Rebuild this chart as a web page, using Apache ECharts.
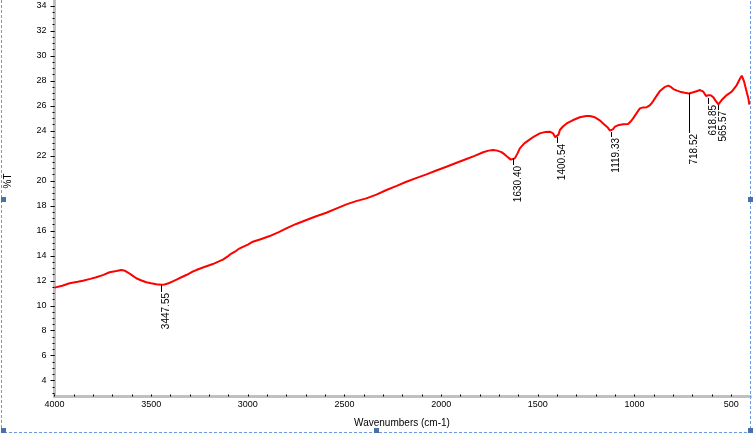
<!DOCTYPE html>
<html>
<head>
<meta charset="utf-8">
<script src="https://cdn.jsdelivr.net/npm/echarts@6/dist/echarts.min.js"></script>
<style>
html,body{margin:0;padding:0;background:#fff;}
#chart{width:753px;height:435px;}
</style>
</head>
<body>
<div id="chart"></div>
<script>
// ---- Data ----
const wavenumbers = [4000,3960,3922,3880,3853,3815,3784,3750,3715,3680,3655,3635,3620,3600,3577,3550,3525,3500,3474,3447,3431,3410,3388,3355,3318,3290,3267,3225,3181,3150,3129,3100,3085,3060,3042,3000,2974,2930,2887,2840,2801,2750,2697,2650,2594,2540,2490,2440,2387,2335,2283,2230,2180,2130,2076,2025,1973,1920,1869,1830,1783,1755,1731,1710,1688,1670,1654,1640,1630,1619,1605,1593,1570,1550,1520,1490,1460,1438,1421,1410,1400,1393,1386,1370,1351,1320,1283,1250,1231,1210,1196,1180,1162,1140,1127,1119,1110,1101,1080,1058,1033,1020,1007,990,972,955,937,925,911,890,868,845,825,810,799,780,765,740,718,696,675,661,644,630,619,606,593,580,566,549,523,497,471,454,445,438,433,420,411,406];
const transmittance = [11.45,11.6,11.8,11.92,12.0,12.15,12.28,12.45,12.68,12.78,12.86,12.8,12.66,12.45,12.2,12.02,11.88,11.8,11.72,11.68,11.7,11.8,11.95,12.2,12.46,12.7,12.86,13.1,13.34,13.55,13.7,14.0,14.18,14.4,14.6,14.9,15.13,15.35,15.58,15.9,16.2,16.55,16.87,17.15,17.45,17.8,18.12,18.38,18.6,18.9,19.27,19.6,19.93,20.22,20.52,20.83,21.13,21.45,21.75,21.98,22.29,22.42,22.47,22.42,22.3,22.1,21.88,21.7,21.65,21.8,22.2,22.6,23.0,23.22,23.55,23.8,23.92,23.94,23.8,23.5,23.35,23.7,24.07,24.35,24.6,24.85,25.09,25.2,25.2,25.12,25.0,24.85,24.6,24.3,24.02,23.94,24.15,24.34,24.48,24.53,24.55,24.75,25.0,25.4,25.8,25.88,25.9,26.0,26.21,26.7,27.2,27.5,27.62,27.5,27.35,27.22,27.14,27.05,27.0,27.09,27.2,27.27,27.14,26.8,26.85,26.85,26.7,26.4,26.12,26.47,26.87,27.14,27.67,28.2,28.42,28.3,27.94,27.14,26.6,26.1];

const peakWavenumbers = [3447.55, 1630.40, 1400.54, 1119.33, 718.52, 618.85, 565.57];
const peakTransmittance = [11.66, 21.83, 23.51, 23.94, 27.01, 26.63, 26.07];

const xTickLabels = [500,1000,1500,2000,2500,3000,3500,4000];
const yTickLabels = [4,6,8,10,12,14,16,18,20,22,24,26,28,30,32,34];

// ---- Styling / layout (not data) ----
const leaderLengths = [7, 7, 6, 5, 40, 6, 5];
const X_MIN = 400, X_MAX = 4000;
const Y_MIN = 2.735, Y_MAX = 34.48;

const xMinorTicks = [];
for (let v = 500; v <= 4000; v += 100) xMinorTicks.push(v);
const yMinorTicks = [];
for (let v = 3; v <= 34.4; v += 0.5) yMinorTicks.push(v);

const lineData = wavenumbers.map((w, i) => [w, transmittance[i]]);
const peakData = peakWavenumbers.map((w, i) => [w, peakTransmittance[i]]);

const chart = echarts.init(document.getElementById('chart'), null, {renderer: 'canvas'});
const FONT = 'Arial, "Liberation Sans", sans-serif';

chart.setOption({
  animation: false,
  backgroundColor: '#fff',
  grid: {left: 54.5, right: 2.5, top: 0, bottom: 38.5, containLabel: false},
  xAxis: [{
    type: 'value', inverse: true, min: X_MIN, max: X_MAX,
    axisLine: {show: true, lineStyle: {color: '#c0c0c0', width: 3}},
    axisTick: {show: true, inside: true, length: 2, customValues: xMinorTicks, lineStyle: {color: '#000', width: 1}},
    axisLabel: {show: true, customValues: xTickLabels, margin: 4, fontSize: 9, fontFamily: FONT, color: '#000',
                formatter: function (v) { return String(v); }},
    splitLine: {show: false}
  }],
  yAxis: [{
    type: 'value', min: Y_MIN, max: Y_MAX,
    axisLine: {show: true, lineStyle: {color: '#c0c0c0', width: 3}},
    axisTick: {show: true, inside: false, length: 4, customValues: yTickLabels, lineStyle: {color: '#000', width: 1}},
    axisLabel: {show: true, customValues: yTickLabels, margin: 8, fontSize: 9, fontFamily: FONT, color: '#000',
                formatter: function (v) { return String(v); }},
    splitLine: {show: false}
  }, {
    type: 'value', min: Y_MIN, max: Y_MAX, position: 'left', offset: 0,
    axisLine: {show: false},
    axisTick: {show: true, inside: false, length: 2, customValues: yMinorTicks, lineStyle: {color: '#000', width: 1}},
    axisLabel: {show: false},
    splitLine: {show: false}
  }],
  series: [{
    type: 'line',
    data: lineData,
    showSymbol: false,
    symbol: 'none',
    smooth: false,
    lineStyle: {color: '#ff0000', width: 2},
    z: 3
  }, {
    type: 'custom',
    data: peakData,
    clip: false,
    z: 4,
    renderItem: function (params, api) {
      const p = api.coord([api.value(0), api.value(1)]);
      const len = leaderLengths[params.dataIndex];
      const x = Math.round(p[0]) + 0.5;
      const y = Math.round(p[1]);
      return {
        type: 'group',
        children: [{
          type: 'line',
          shape: {x1: x, y1: y, x2: x, y2: y + len},
          style: {stroke: '#000', lineWidth: 1}
        }, {
          type: 'text',
          x: x,
          y: y + len + 1,
          rotation: Math.PI / 2,
          style: {
            text: peakWavenumbers[params.dataIndex].toFixed(2),
            align: 'right',
            verticalAlign: 'top',
            font: '10px ' + FONT,
            fill: '#000'
          }
        }]
      };
    }
  }],
  graphic: [
    {type: 'text', x: 8, y: 181, rotation: Math.PI / 2,
     style: {text: '%T', align: 'center', verticalAlign: 'middle', font: '10px ' + FONT, fill: '#000'}},
    {type: 'text', x: 402, y: 423,
     style: {text: 'Wavenumbers (cm-1)', align: 'center', verticalAlign: 'middle', font: '10px ' + FONT, fill: '#000'}},
    // selection frame (dashed) and handles
    {type: 'polyline', shape: {points: [[1.5, 0], [1.5, 432.5], [750.5, 432.5], [750.5, 0]]},
     style: {stroke: '#6a9be0', lineWidth: 1, lineDash: [3, 2], fill: null}, z: 10},
    {type: 'rect', shape: {x: 1, y: 197, width: 5, height: 5}, style: {fill: '#4a70a8'}, z: 11},
    {type: 'rect', shape: {x: 748, y: 197, width: 5, height: 5}, style: {fill: '#4a70a8'}, z: 11},
    {type: 'rect', shape: {x: 374, y: 428, width: 5, height: 5}, style: {fill: '#4a70a8'}, z: 11},
    {type: 'rect', shape: {x: 1, y: 428, width: 5, height: 5}, style: {fill: '#4a70a8'}, z: 11},
    {type: 'rect', shape: {x: 748, y: 428, width: 5, height: 5}, style: {fill: '#4a70a8'}, z: 11}
  ]
});
</script>
</body>
</html>
